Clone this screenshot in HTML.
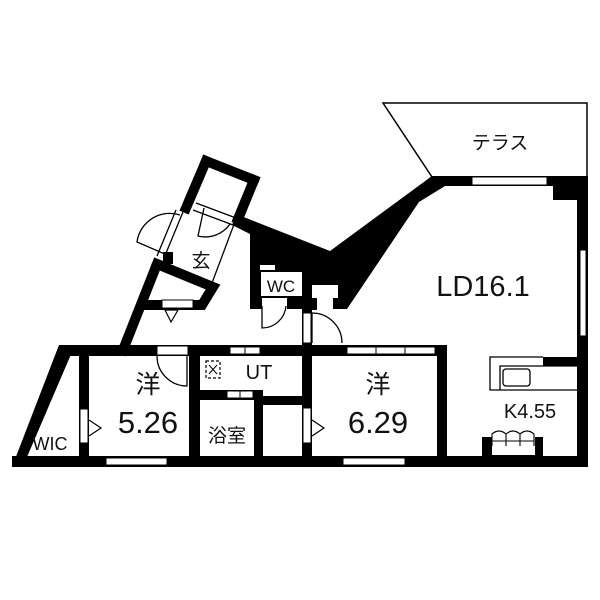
<!DOCTYPE html>
<html><head><meta charset="utf-8"><style>
html,body{margin:0;padding:0;background:#fff;width:600px;height:600px;overflow:hidden}
svg{display:block}
text{font-family:"Liberation Sans","Noto Sans CJK JP",sans-serif;fill:#111}
</style></head><body>
<svg width="600" height="600" viewBox="0 0 600 600" xmlns="http://www.w3.org/2000/svg">
<rect width="600" height="600" fill="#fff"/>
<polygon points="383,103 587,103 587,177 432,177" fill="none" stroke="#000" stroke-width="1.5"/>
<text x="500" y="149" font-size="19" text-anchor="middle">テラス</text>

<rect x="432" y="176" width="156" height="10" fill="#000"/>
<rect x="553" y="176" width="35" height="24" fill="#000"/>
<rect x="577" y="176" width="11" height="291" fill="#000"/>
<rect x="472" y="177" width="75" height="8" fill="#fff" stroke="#000" stroke-width="1"/>
<rect x="580" y="250" width="6" height="86" fill="#fff" stroke="#000" stroke-width="1"/>

<polygon points="236,214 330,251 432,176 445,176 445,186 419,202 347,309 250,309 250,234 232,225" fill="#000"/>
<rect x="261" y="272" width="41" height="24" fill="#fff"/>
<rect x="260" y="265" width="15" height="5" fill="#fff"/>
<rect x="262" y="298" width="25" height="12" fill="#fff"/>
<rect x="312" y="285" width="26" height="13" fill="#fff"/>
<rect x="317" y="297" width="16" height="13" fill="#fff"/>
<text x="281" y="292" font-size="17" text-anchor="middle">WC</text>
<path d="M262,306 L262,328 A24,24 0 0 0 286,306" fill="none" stroke="#000" stroke-width="1.3"/>

<g stroke="#000" stroke-width="10" fill="none" stroke-linecap="square">
<path d="M206,161 L254,180"/>
<path d="M206,161 L186,208"/>
<path d="M254,180 L238,219"/>
<path d="M157,264 L213,287 L202,305 L143,305"/>
<path d="M157,264 L123,350"/>
</g>
<g stroke="#000" stroke-width="1.3" fill="none">
<path d="M196,203 L236,218"/>
<path d="M193,210 L233,225"/>
<path d="M236,219 L212,283"/>
<path d="M183,212 L164,258"/>
<path d="M176,210 L157,256"/>
<path d="M167,255 L137,242 A33,33 0 0 1 180,215"/>
<path d="M204,208 L198,236 A30,30 0 0 0 230,224"/>
</g>
<rect x="163" y="252" width="10" height="12" fill="#000"/>
<text x="201" y="267" font-size="19" text-anchor="middle">玄</text>
<rect x="162" y="300" width="31" height="8" fill="#fff" stroke="#000" stroke-width="1"/>
<path d="M165,310 L178,310 L171,322 Z" fill="none" stroke="#000" stroke-width="1.2"/>

<rect x="60" y="345" width="387" height="11" fill="#000"/>
<polygon points="59,345 75,345 27,457 12,467" fill="#000"/>
<rect x="12" y="456" width="576" height="11" fill="#000"/>
<rect x="79" y="345" width="10" height="120" fill="#000"/>
<rect x="189" y="345" width="11" height="120" fill="#000"/>
<rect x="437" y="345" width="10" height="120" fill="#000"/>
<rect x="200" y="390" width="63" height="10" fill="#000"/>
<rect x="254" y="390" width="9" height="70" fill="#000"/>
<rect x="263" y="396" width="40" height="9" fill="#000"/>
<rect x="302" y="298" width="10" height="167" fill="#000"/>
<rect x="302" y="298" width="15" height="12" fill="#000"/>
<rect x="303" y="313" width="8" height="30" fill="#fff" stroke="#000" stroke-width="1"/>
<path d="M312,343 L312,313 A30,30 0 0 1 342,343" fill="none" stroke="#000" stroke-width="1.3"/>
<rect x="303" y="408" width="8" height="35" fill="#fff" stroke="#000" stroke-width="1"/>
<path d="M312,420 L324,428 L312,436" fill="none" stroke="#000" stroke-width="1.2"/>
<rect x="80" y="409" width="8" height="34" fill="#fff" stroke="#000" stroke-width="1"/>
<path d="M89,420 L101,428 L89,436" fill="none" stroke="#000" stroke-width="1.2"/>
<rect x="157" y="346" width="31" height="9" fill="#fff" stroke="#000" stroke-width="1"/>
<path d="M157,356 A30,30 0 0 0 187,386 L187,356" fill="none" stroke="#000" stroke-width="1.3"/>
<rect x="106" y="458" width="61" height="7" fill="#fff" stroke="#000" stroke-width="1"/>
<rect x="343" y="458" width="62" height="7" fill="#fff" stroke="#000" stroke-width="1"/>
<rect x="230" y="347" width="30" height="7" fill="#fff" stroke="#000" stroke-width="1"/>
<line x1="245" y1="347" x2="245" y2="354" stroke="#000"/>
<rect x="227" y="391" width="26" height="7" fill="#fff" stroke="#000" stroke-width="1"/>
<line x1="240" y1="391" x2="240" y2="398" stroke="#000"/>
<rect x="347" y="347" width="88" height="7" fill="#fff" stroke="#000" stroke-width="1"/>
<line x1="376" y1="347" x2="376" y2="354" stroke="#000"/>
<line x1="405" y1="347" x2="405" y2="354" stroke="#000"/>
<rect x="206" y="361" width="14" height="17" fill="none" stroke="#000" stroke-width="1.2" stroke-dasharray="3,2"/>
<path d="M209,365 L217,374 M217,365 L209,374" stroke="#000" stroke-width="1"/>

<rect x="543" y="357" width="35" height="9" fill="#000"/>
<path d="M543,357 L490,357 L490,390 L578,390 M500,390 L500,366 L578,366" fill="none" stroke="#000" stroke-width="1.3"/>
<rect x="503" y="369" width="27" height="17" rx="3" fill="none" stroke="#000" stroke-width="1.3"/>
<rect x="482" y="437" width="61" height="25" fill="#000"/>
<rect x="492" y="446" width="43" height="9" fill="#fff"/>
<rect x="492" y="430" width="43" height="16" fill="#fff"/>
<path d="M492,446 L492,434 Q499,428 506,434 Q513,428 520,434 Q527,428 534,434 L534,446 M506,434 L506,446 M520,434 L520,446 M492,441 L534,441" fill="none" stroke="#000" stroke-width="1.1"/>

<text x="483" y="296" font-size="29" text-anchor="middle">LD16.1</text>
<text x="148" y="393" font-size="25" text-anchor="middle">洋</text>
<text x="148" y="433" font-size="31" text-anchor="middle">5.26</text>
<text x="378" y="393" font-size="25" text-anchor="middle">洋</text>
<text x="378" y="433" font-size="31" text-anchor="middle">6.29</text>
<text x="50" y="450" font-size="18" text-anchor="middle">WIC</text>
<text x="259" y="379" font-size="20" text-anchor="middle">UT</text>
<text x="227" y="442" font-size="19" text-anchor="middle">浴室</text>
<text x="530" y="418" font-size="20" text-anchor="middle">K4.55</text>
</svg>
</body></html>
